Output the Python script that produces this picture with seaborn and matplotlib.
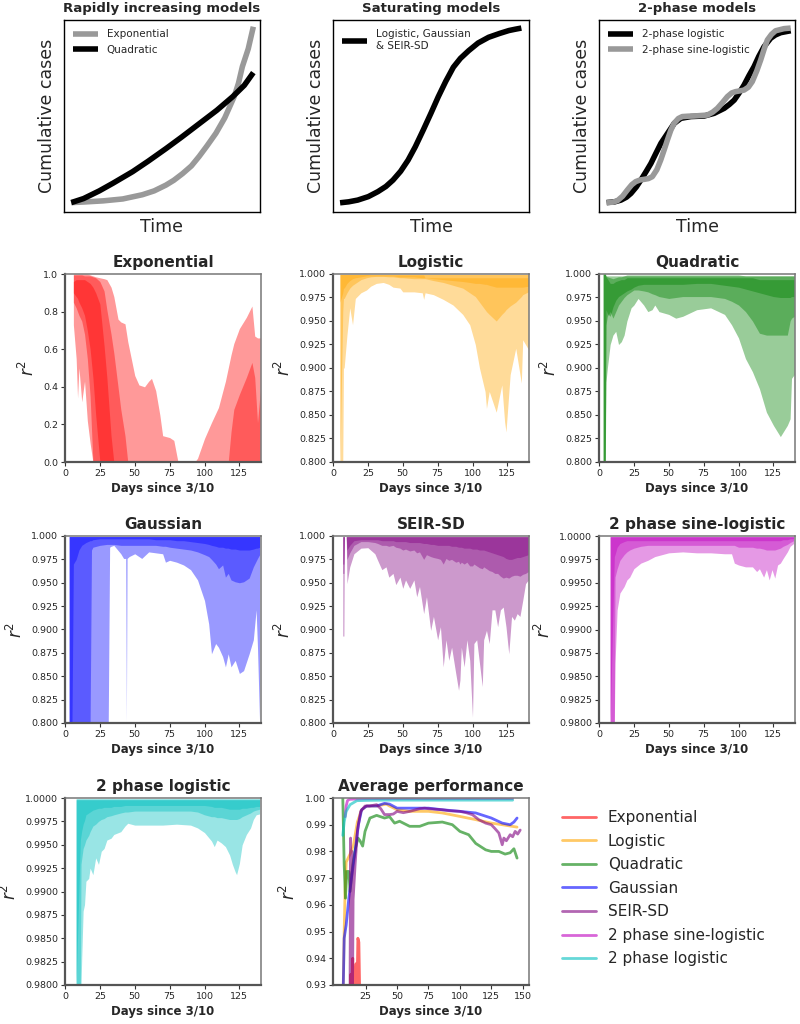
import numpy as np
import pandas as pd
import matplotlib
matplotlib.use("Agg")
import matplotlib.pyplot as plt
import seaborn as sns
from matplotlib.lines import Line2D
from matplotlib.ticker import FormatStrFormatter

# ------------------------------------------------------------------ data
# --- schematic curves (normalised time / cases) ---
EXP_T = [0.037, 0.1, 0.2, 0.3, 0.4, 0.46, 0.52, 0.56, 0.605, 0.65, 0.69, 0.73, 0.775, 0.82,
         0.868, 0.89, 0.91, 0.94, 0.966]
EXP_Y = [0.049, 0.052, 0.058, 0.068, 0.09, 0.11, 0.14, 0.165, 0.2, 0.24, 0.29, 0.345, 0.41, 0.49,
         0.6, 0.67, 0.757, 0.85, 0.965]
QUA_T = [0.037, 0.1, 0.18, 0.25, 0.35, 0.43, 0.52, 0.6, 0.69, 0.78, 0.86, 0.92, 0.966]
QUA_Y = [0.049, 0.07, 0.11, 0.15, 0.21, 0.265, 0.33, 0.39, 0.46, 0.53, 0.60, 0.66, 0.726]
LOGI_T = [0.036, 0.08, 0.126, 0.18, 0.229, 0.27, 0.306, 0.345, 0.383, 0.42, 0.46, 0.5, 0.537,
          0.575, 0.614, 0.65, 0.692, 0.74, 0.794, 0.85, 0.897, 0.93, 0.961]
LOGI_Y = [0.048, 0.053, 0.062, 0.08, 0.106, 0.133, 0.166, 0.212, 0.27, 0.34, 0.426, 0.515, 0.6,
          0.68, 0.754, 0.80, 0.84, 0.88, 0.91, 0.93, 0.945, 0.952, 0.958]
TPL_T = [0.039, 0.08, 0.112, 0.14, 0.163, 0.19, 0.214, 0.24, 0.265, 0.29, 0.316, 0.35, 0.384,
         0.418, 0.469, 0.537, 0.588, 0.639, 0.665, 0.69, 0.715, 0.74, 0.765, 0.791, 0.815,
         0.842, 0.876, 0.9, 0.927, 0.978]
TPL_Y = [0.049, 0.053, 0.062, 0.077, 0.097, 0.13, 0.167, 0.21, 0.253, 0.305, 0.358, 0.41, 0.462,
         0.488, 0.497, 0.5, 0.514, 0.54, 0.56, 0.583, 0.62, 0.661, 0.71, 0.757, 0.81,
         0.861, 0.905, 0.922, 0.934, 0.944]
TPS_T = [0.039, 0.07, 0.094, 0.12, 0.145, 0.167, 0.187, 0.21, 0.23, 0.252, 0.272, 0.295, 0.315,
         0.333, 0.349, 0.366, 0.383, 0.405, 0.425, 0.455, 0.485, 0.553, 0.58, 0.604, 0.63, 0.655,
         0.677, 0.697, 0.72, 0.74, 0.762, 0.782, 0.805, 0.825, 0.843, 0.859, 0.88, 0.901, 0.944, 0.978]
TPS_Y = [0.049, 0.051, 0.059, 0.082, 0.115, 0.142, 0.158, 0.167, 0.17, 0.174, 0.184, 0.22, 0.271,
         0.325, 0.375, 0.425, 0.462, 0.487, 0.497, 0.499, 0.5, 0.505, 0.52, 0.54, 0.57, 0.601,
         0.62, 0.627, 0.631, 0.635, 0.65, 0.679, 0.735, 0.792, 0.85, 0.896, 0.925, 0.944, 0.955, 0.958]

# --- Exponential r^2 percentile bands ---
E_DAY = [6, 8, 9, 10, 12, 14, 16, 18, 20, 22, 25, 28, 30, 33, 35, 38, 40, 43, 45, 50,
         53, 57, 60, 62, 65, 68, 70, 75, 78, 81, 90, 93, 95, 100, 105, 110, 115, 117, 119, 121,
         125, 130, 134, 136, 138, 140]
E_OUT_HI = [1.0, 1.0, 1.0, 1.0, 1.0, 1.0, 1.0, 0.995, 0.99, 0.985,
            0.98, 0.975, 0.97, 0.93, 0.88, 0.76, 0.745, 0.735, 0.64, 0.46,
            0.41, 0.40, 0.43, 0.445, 0.38, 0.25, 0.14, 0.13, 0.115, 0.0,
            0.0, 0.0, 0.02, 0.125, 0.21, 0.29, 0.43, 0.5, 0.57, 0.63,
            0.71, 0.77, 0.83, 0.67, 0.66, 0.66]
E_OUT_LO = [0.73, 0.55, 0.34, 0.5, 0.32, 0.43, 0.22, 0.1, 0.0] + [0.0] * 37
E_MID_HI = [0.995, 0.995, 0.995, 0.995, 0.995, 0.99, 0.99, 0.99, 0.985, 0.98,
            0.96, 0.91, 0.81, 0.68, 0.58, 0.40, 0.28, 0.14, 0.0, 0.0,
            0.0, 0.0, 0.0, 0.0, 0.0, 0.0, 0.0, 0.0, 0.0, 0.0,
            0.0, 0.0, 0.0, 0.0, 0.0, 0.0, 0.0, 0.0, 0.16, 0.28,
            0.36, 0.45, 0.53, 0.45, 0.21, 0.38]
E_MID_LO = [0.85, 0.82, 0.8, 0.78, 0.75, 0.68, 0.55, 0.35, 0.0] + [0.0] * 37
E_IN_HI = [0.96, 0.97, 0.97, 0.97, 0.97, 0.97, 0.96, 0.95, 0.93, 0.9,
           0.84, 0.62, 0.45, 0.14, 0.0] + [0.0] * 31
E_IN_LO = [0.9, 0.88, 0.87, 0.85, 0.82, 0.78, 0.7, 0.6, 0.45, 0.25, 0.0] + [0.0] * 35

# --- Logistic ---
L_DAY = [5, 7, 7.5, 8, 10, 12, 14, 16, 20, 24, 27, 31, 36, 40, 43, 48, 50, 58, 64, 65,
         66, 72, 79, 86, 93, 98, 102, 105, 109, 110, 112, 117, 121, 123, 124, 127, 131, 135, 136, 140]
L_OUT_LO = [0.8, 0.8, 0.9, 0.9, 0.935, 0.964, 0.946, 0.974, 0.98, 0.983,
            0.987, 0.99, 0.991, 0.989, 0.986, 0.985, 0.981, 0.981, 0.98, 0.973,
            0.98, 0.978, 0.973, 0.967, 0.957, 0.946, 0.925, 0.9, 0.875, 0.857,
            0.875, 0.853, 0.882, 0.843, 0.832, 0.893, 0.921, 0.884, 0.93, 0.92]
L_OUT_HI = [0.9995] * 40
L_MID_LO = [0.8, 0.96, 0.974, 0.974, 0.98, 0.985, 0.988, 0.99, 0.994, 0.996,
            0.997, 0.9975, 0.9975, 0.997, 0.997, 0.996, 0.996, 0.995, 0.995, 0.995,
            0.995, 0.993, 0.991, 0.988, 0.985, 0.98, 0.976, 0.97, 0.962, 0.96,
            0.957, 0.95, 0.957, 0.96, 0.962, 0.966, 0.97, 0.976, 0.978, 0.981]
L_MID_HI = [0.9995] * 40
L_IN_LO = [0.97, 0.98, 0.985, 0.985, 0.99, 0.993, 0.995, 0.996, 0.997, 0.998,
           0.998, 0.998, 0.998, 0.998, 0.998, 0.997, 0.997, 0.997, 0.996, 0.996,
           0.996, 0.995, 0.994, 0.993, 0.992, 0.991, 0.99, 0.99, 0.989, 0.989,
           0.988, 0.986, 0.986, 0.986, 0.986, 0.986, 0.986, 0.986, 0.986, 0.987]
L_IN_HI = [0.9995] * 10 + [0.999] * 10 + [0.996] * 20

# --- Quadratic ---
Q_DAY = [3, 4.5, 5, 6, 8, 10, 12, 14, 16, 18, 20, 23, 25, 28, 32, 35, 38, 40, 43, 50,
         55, 60, 70, 80, 90, 95, 100, 105, 110, 115, 120, 125, 130, 135, 137, 138, 140]
Q_OUT_LO = [0.8, 0.8, 0.885, 0.9, 0.925, 0.935, 0.939, 0.925, 0.928, 0.935,
            0.95, 0.964, 0.967, 0.974, 0.967, 0.96, 0.962, 0.967, 0.96, 0.957,
            0.953, 0.955, 0.962, 0.964, 0.957, 0.946, 0.932, 0.91, 0.896, 0.878,
            0.853, 0.839, 0.827, 0.839, 0.846, 0.889, 0.893]
Q_OUT_HI = ([1.0, 1.0, 0.998, 0.997, 0.996, 0.995, 0.996, 0.997, 0.997, 0.998]
            + [0.999] * 17 + [0.998] * 10)
Q_MID_LO = [0.8, 0.8, 0.946, 0.955, 0.96, 0.953, 0.96, 0.967, 0.971, 0.975,
            0.978, 0.981, 0.983, 0.983, 0.982, 0.981, 0.979, 0.978, 0.976, 0.974,
            0.975, 0.976, 0.976, 0.976, 0.974, 0.971, 0.967, 0.96, 0.95, 0.937,
            0.935, 0.935, 0.935, 0.935, 0.95, 0.953, 0.955]
Q_MID_HI = [1.0, 1.0] + [0.998] * 35
Q_IN_LO = [0.8, 0.8, 0.962, 0.958, 0.955, 0.965, 0.972, 0.976, 0.978, 0.98,
           0.982, 0.984, 0.986, 0.988, 0.989, 0.989, 0.989, 0.989, 0.989, 0.989,
           0.989, 0.989, 0.99, 0.99, 0.988, 0.987, 0.986, 0.984, 0.982, 0.98,
           0.978, 0.976, 0.975, 0.975, 0.975, 0.976, 0.976]
Q_IN_HI = ([1.0, 1.0, 0.997, 0.995, 0.99, 0.99, 0.992, 0.993, 0.994, 0.994]
           + [0.996] * 19 + [0.994] * 8)

# --- Gaussian ---
G_DAY = [3, 5, 6, 8, 10, 12, 15, 18, 19, 20, 25, 30, 31, 32, 33, 35, 40, 42, 43.5, 44,
         44.5, 46, 50, 55, 60, 65, 70, 72, 75, 80, 85, 90, 95, 100, 103, 105, 108, 110, 113, 115,
         117, 119, 122, 125, 128, 132, 135, 137, 138, 139.5]
G_OUT_LO = ([0.8] * 13
            + [0.988, 0.989, 0.99, 0.981, 0.976, 0.976, 0.8,
               0.976, 0.978, 0.981, 0.976, 0.983, 0.982, 0.981, 0.972, 0.974, 0.972,
               0.969, 0.964, 0.953, 0.931, 0.906, 0.874, 0.885, 0.881, 0.871, 0.86,
               0.874, 0.86, 0.867, 0.853, 0.856, 0.874, 0.889, 0.921, 0.88, 0.8])
G_OUT_HI = [0.9995] * 50
G_MID_LO = ([0.8] * 8
            + [0.985, 0.988,
               0.99, 0.991, 0.991, 0.991, 0.991, 0.991, 0.99, 0.99, 0.99, 0.99,
               0.99, 0.99, 0.99, 0.99, 0.99, 0.99, 0.989, 0.989, 0.988, 0.987,
               0.986, 0.985, 0.983, 0.98, 0.978, 0.975, 0.97, 0.965, 0.969, 0.956,
               0.96, 0.953, 0.951, 0.95, 0.951, 0.955, 0.967, 0.973, 0.976, 0.98])
G_MID_HI = [0.9995] * 50
G_IN_LO = ([0.8, 0.8, 0.97, 0.975, 0.985, 0.99, 0.993, 0.995, 0.995, 0.996]
           + [0.997] * 10
           + [0.997, 0.997, 0.997, 0.997, 0.997, 0.996, 0.996, 0.996, 0.996, 0.995]
           + [0.995, 0.994, 0.993, 0.992, 0.991, 0.99, 0.989, 0.988, 0.988, 0.987]
           + [0.987, 0.986, 0.986, 0.985, 0.985, 0.985, 0.986, 0.987, 0.987, 0.988])
G_IN_HI = [0.9993] * 50

# --- SEIR-SD ---
S_DAY = [7, 7.8, 8.2, 9.5, 10, 12, 15, 20, 25, 30, 32, 35, 38, 40, 43, 45, 48, 50, 52, 55,
         58, 60, 62, 65, 67, 70, 72, 75, 77, 79, 81, 83, 85, 88, 90, 91, 92, 94, 96, 98,
         100, 101, 103, 105, 107, 108, 110, 112, 114, 116, 118, 120, 122, 124, 126, 128, 130, 132,
         134, 136, 138, 140]
S_OUT_LO = [0.893, 0.893, 0.9995, 0.9995, 0.949, 0.967, 0.981, 0.987, 0.9875, 0.981,
            0.974, 0.964, 0.967, 0.956, 0.96, 0.948, 0.956, 0.944, 0.953, 0.944,
            0.953, 0.935, 0.946, 0.917, 0.935, 0.899, 0.914, 0.889, 0.903, 0.86,
            0.889, 0.867, 0.881, 0.853, 0.835, 0.846, 0.881, 0.86, 0.889, 0.867,
            0.806, 0.885, 0.889, 0.864, 0.839, 0.889, 0.899, 0.885, 0.921, 0.921,
            0.903, 0.921, 0.924, 0.903, 0.874, 0.914, 0.91, 0.917, 0.914, 0.931,
            0.949, 0.953]
S_OUT_HI = [0.9995] * 62
S_MID_LO = [0.96, 0.96, 0.9995, 0.9995, 0.975, 0.982, 0.99, 0.994, 0.994, 0.993,
            0.992, 0.99, 0.99, 0.989, 0.99, 0.988, 0.987, 0.985, 0.986, 0.984,
            0.985, 0.982, 0.983, 0.975, 0.98, 0.978, 0.977, 0.976, 0.975, 0.97,
            0.976, 0.974, 0.975, 0.972, 0.973, 0.97, 0.972, 0.97, 0.972, 0.968,
            0.968, 0.97, 0.968, 0.966, 0.965, 0.967, 0.965, 0.963, 0.962, 0.96,
            0.96, 0.957, 0.955, 0.956, 0.955, 0.957, 0.958, 0.958, 0.957, 0.959,
            0.96, 0.962]
S_MID_HI = [0.9995] * 62
S_IN_LO = [0.97, 0.97, 0.999, 0.999, 0.985, 0.99, 0.995, 0.996, 0.996, 0.996,
           0.996, 0.995, 0.995, 0.995, 0.995, 0.994, 0.994, 0.994, 0.994, 0.993,
           0.993, 0.993, 0.993, 0.992, 0.992, 0.991, 0.991, 0.99, 0.99, 0.99,
           0.99, 0.99, 0.989, 0.989, 0.988, 0.988, 0.988, 0.987, 0.987, 0.987,
           0.986, 0.986, 0.986, 0.985, 0.985, 0.985, 0.984, 0.983, 0.982, 0.981,
           0.98, 0.979, 0.978, 0.976, 0.975, 0.975, 0.976, 0.977, 0.977, 0.978,
           0.979, 0.98]
S_IN_HI = [0.999] * 62

# --- 2 phase sine-logistic ---
M_DAY = [8, 11, 11.5, 13, 15, 18, 20, 22, 25, 30, 35, 40, 45, 50, 60, 70, 80, 90, 95, 97,
         100, 105, 110, 113, 115, 118, 120, 122, 124, 126, 128, 130, 132, 135, 137, 139.5]
M_OUT_LO = [0.98, 0.98, 0.9864, 0.9921, 0.9939, 0.9946, 0.9953, 0.9956, 0.9965, 0.9971,
            0.9974, 0.9978, 0.998, 0.9982, 0.9983, 0.9982, 0.9982, 0.9981, 0.9981, 0.9971,
            0.9969, 0.9967, 0.9967, 0.9962, 0.9965, 0.9956, 0.9964, 0.9953, 0.9964, 0.9955,
            0.9969, 0.9971, 0.9976, 0.9983, 0.9989, 0.9992]
M_OUT_HI = [0.99992] * 36
M_MID_LO = ([0.98, 0.98, 0.9956, 0.9965, 0.9974, 0.998, 0.9983, 0.9985, 0.9987, 0.9989]
            + [0.999] * 10
            + [0.9988, 0.9988, 0.9988, 0.9987, 0.9987, 0.9986, 0.9985, 0.9985, 0.9985, 0.9985]
            + [0.9986, 0.9987, 0.9989, 0.9991, 0.9993, 0.9995])
M_MID_HI = [0.99992] * 36
M_IN_LO = ([0.98, 0.9978, 0.998, 0.9988, 0.9992, 0.9994, 0.9995, 0.9995, 0.9995, 0.9995]
           + [0.9995] * 20
           + [0.9995, 0.9995, 0.9996, 0.9996, 0.9997, 0.9997])
M_IN_HI = [0.99995] * 36

# --- 2 phase logistic ---
T_DAY = [8, 11, 11.5, 12, 13, 14, 15, 17, 18, 20, 22, 24, 26, 28, 30, 33, 35, 40, 43, 45,
         50, 60, 70, 80, 90, 95, 100, 105, 107, 109, 112, 115, 118, 120, 122, 123, 125, 127, 130, 133,
         135, 137, 139.5]
T_OUT_LO = [0.98, 0.98, 0.98, 0.9829, 0.9879, 0.9886, 0.9911, 0.9914, 0.9925, 0.9918,
            0.9936, 0.9929, 0.9943, 0.9946, 0.9955, 0.9957, 0.9961, 0.9964, 0.997, 0.9973,
            0.9971, 0.9971, 0.9971, 0.9972, 0.9971, 0.9968, 0.9963, 0.9954, 0.9948, 0.9955,
            0.9952, 0.9948, 0.9939, 0.9929, 0.9921, 0.9918, 0.993, 0.995, 0.9961, 0.9968,
            0.9977, 0.9982, 0.9983]
T_OUT_HI = [0.9999] * 43
T_MID_LO = ([0.98, 0.98, 0.9929, 0.9935, 0.9946, 0.995, 0.9955, 0.996, 0.9964, 0.997,
             0.9972, 0.9975, 0.9977, 0.9978, 0.998, 0.9981, 0.9982, 0.9984, 0.9985, 0.9985]
            + [0.9986] * 5
            + [0.9985, 0.9982, 0.998, 0.998, 0.9979,
               0.9979, 0.9978, 0.9977, 0.9977, 0.9977, 0.9977, 0.9978, 0.998, 0.9982, 0.9984,
               0.9986, 0.9987, 0.9988])
T_MID_HI = [0.9999] * 43
T_IN_LO = ([0.98, 0.9955, 0.996, 0.9965, 0.9972, 0.9976, 0.9982, 0.9984, 0.9985, 0.9987,
            0.9988, 0.9989, 0.9989, 0.999, 0.999, 0.999, 0.9991, 0.9991, 0.9992, 0.9992]
           + [0.9992] * 7
           + [0.9991, 0.999, 0.999,
              0.999, 0.9989, 0.9988, 0.9988, 0.9988, 0.9988, 0.9988, 0.9989, 0.9989, 0.999,
              0.999, 0.9991, 0.9991])
T_IN_HI = [0.9998] * 43

# --- average performance ---
AVG_EXP_DAY = [12.5, 13.2, 13.8, 14.7, 15.6, 16.5, 17.4, 18.0, 18.8, 19.6, 20.5, 22, 25, 30]
AVG_EXP_R2 = [0.90, 0.934, 0.925, 0.94, 0.925, 0.93, 0.938, 0.925, 0.9475, 0.946, 0.92, 0.88, 0.8, 0.6]
AVG_LOG_DAY = [6.8, 7.9, 8.6, 9.5, 12.6, 15.3, 18.4, 21.8, 25.8, 33.7, 41.6, 44, 50, 60, 75, 86,
               100, 112.6, 125, 133.7, 145.5]
AVG_LOG_R2 = [0.92, 0.95, 0.965, 0.976, 0.979, 0.9825, 0.991, 0.9956, 0.997, 0.997, 0.9977, 0.997,
              0.9956, 0.995, 0.995, 0.9944, 0.9931, 0.9919, 0.9906, 0.99, 0.9891]
AVG_QUA_DAY = [6.8, 7.9, 8.9, 10, 11.6, 12.6, 14.7, 16.8, 18.9, 20.5, 22.6, 24.5, 28.4, 33.7, 40,
               44, 48, 52, 60, 68, 75, 86, 94, 100, 107, 112.6, 120.5, 125, 131, 136, 140, 143, 145.5]
AVG_QUA_R2 = [1.0, 0.975, 0.9625, 0.9725, 0.9725, 0.965, 0.975, 0.981, 0.985, 0.984, 0.982, 0.9875,
              0.9925, 0.9935, 0.9925, 0.993, 0.9906, 0.9913, 0.9894, 0.9894, 0.9906, 0.991, 0.99,
              0.9875, 0.98625, 0.983, 0.9806, 0.98, 0.98, 0.979, 0.9795, 0.981, 0.9775]
AVG_GAU_DAY = [6.8, 7.9, 9.5, 11.6, 14, 16.6, 19.2, 21.8, 25.8, 33.7, 40, 44, 50, 60, 75, 86, 100,
               112.6, 125, 133.7, 140, 143, 145.5]
AVG_GAU_R2 = [0.92, 0.9475, 0.9525, 0.9625, 0.971, 0.98, 0.99, 0.9956, 0.997, 0.997, 0.998, 0.9977,
              0.9962, 0.9962, 0.9962, 0.9956, 0.995, 0.9944, 0.9925, 0.9906, 0.99, 0.991, 0.9925]
AVG_SEIR_DAY = [12.5, 13, 13.5, 14, 14.5, 15, 16.6, 18.4, 21, 24.5, 28, 33.7, 37, 40, 44, 47, 50,
                55, 60, 64, 68, 72, 75, 80, 86, 92, 100, 105, 110, 115, 120.5, 125, 128, 131,
                133.7, 135, 137, 140, 142, 144, 146, 148]
AVG_SEIR_R2 = [0.92, 0.985, 0.93, 0.98, 0.925, 0.962, 0.975, 0.9875, 0.995, 0.997, 0.997, 0.9975,
               0.996, 0.9938, 0.9938, 0.994, 0.995, 0.9945, 0.995, 0.9955, 0.996, 0.9962, 0.996,
               0.9958, 0.9956, 0.9952, 0.995, 0.9945, 0.99375, 0.9919, 0.9906, 0.99, 0.9885,
               0.9869, 0.9825, 0.985, 0.984, 0.98625, 0.9855, 0.9875, 0.9865, 0.988]
AVG_SIN_DAY = [8.7, 9.5, 10.5, 12, 20, 40, 60, 80, 100, 120, 142]
AVG_SIN_R2 = [0.993, 0.997, 0.999, 0.9995, 0.9997, 0.9998, 0.9998, 0.9998, 0.9998, 0.9998, 0.9998]
AVG_2PL_DAY = [6.8, 7.9, 9.5, 12.6, 18, 25, 40, 60, 80, 100, 120, 142]
AVG_2PL_R2 = [0.986, 0.991, 0.995, 0.9975, 0.999, 0.9991, 0.9992, 0.9992, 0.9992, 0.9992, 0.9992, 0.9992]

MODEL_NAMES = ["Exponential", "Logistic", "Quadratic", "Gaussian", "SEIR-SD",
               "2 phase sine-logistic", "2 phase logistic"]
MODEL_COLORS = ["red", "orange", "green", "blue", "purple", "m", "c"]

# ------------------------------------------------------------------ style
sns.set_style("ticks")
plt.rcParams['font.family'] = ['DejaVu Sans']

W, H = 800, 1024
fig = plt.figure(figsize=(W / 100, H / 100), dpi=100)


def add_ax(left, top, w, h):
    return fig.add_axes([left / W, 1 - (top + h) / H, w / W, h / H])


COL_L = [65, 333, 599]
AX_W = 196
ROW_T = [20, 274, 536, 798]
ROW_H = [192, 188, 187, 187]

# ------------------------------------------------------------------ top row
top_specs = [
    ("Rapidly increasing models",
     [(EXP_T, EXP_Y, "#999999", "Exponential"), (QUA_T, QUA_Y, "black", "Quadratic")]),
    ("Saturating models",
     [(LOGI_T, LOGI_Y, "black", "Logistic, Gaussian\n& SEIR-SD")]),
    ("2-phase models",
     [(TPL_T, TPL_Y, "black", "2-phase logistic"), (TPS_T, TPS_Y, "#999999", "2-phase sine-logistic")]),
]
for i, (title, curves) in enumerate(top_specs):
    ax = add_ax(COL_L[i] - (1 if i == 0 else 0), ROW_T[0], AX_W, ROW_H[0])
    for t, y, c, lab in curves:
        sns.lineplot(x=t, y=y, ax=ax, color=c, lw=4, label=lab, sort=False, estimator=None)
    for ln in ax.lines:
        ln.set_solid_joinstyle("round")
        ln.set_solid_capstyle("butt")
    ax.set_xlim(0, 1)
    ax.set_ylim(0, 1)
    ax.set_xticks([])
    ax.set_yticks([])
    for s in ax.spines.values():
        s.set_visible(True)
        s.set_color("black")
        s.set_linewidth(1.0)
    ax.set_title(title, fontsize=9.5, fontweight="bold", pad=6)
    ax.set_xlabel("Time", fontsize=12.5, labelpad=4)
    ax.set_ylabel("Cumulative cases", fontsize=12.5, labelpad=6)
    ax.legend(loc="upper left", frameon=False, fontsize=7.5, handlelength=2.4,
              labelspacing=0.55, handletextpad=0.8)

# ------------------------------------------------------------------ band panels
band_specs = [
    ("Exponential", "red", E_DAY, [(E_OUT_LO, E_OUT_HI), (E_MID_LO, E_MID_HI), (E_IN_LO, E_IN_HI)],
     (0.0, 1.0), np.arange(0.0, 1.01, 0.2), "%.1f"),
    ("Logistic", "orange", L_DAY, [(L_OUT_LO, L_OUT_HI), (L_MID_LO, L_MID_HI), (L_IN_LO, L_IN_HI)],
     (0.8, 1.0), np.arange(0.8, 1.0001, 0.025), "%.3f"),
    ("Quadratic", "green", Q_DAY, [(Q_OUT_LO, Q_OUT_HI), (Q_MID_LO, Q_MID_HI), (Q_IN_LO, Q_IN_HI)],
     (0.8, 1.0), np.arange(0.8, 1.0001, 0.025), "%.3f"),
    ("Gaussian", "blue", G_DAY, [(G_OUT_LO, G_OUT_HI), (G_MID_LO, G_MID_HI), (G_IN_LO, G_IN_HI)],
     (0.8, 1.0), np.arange(0.8, 1.0001, 0.025), "%.3f"),
    ("SEIR-SD", "purple", S_DAY, [(S_OUT_LO, S_OUT_HI), (S_MID_LO, S_MID_HI), (S_IN_LO, S_IN_HI)],
     (0.8, 1.0), np.arange(0.8, 1.0001, 0.025), "%.3f"),
    ("2 phase sine-logistic", "m", M_DAY, [(M_OUT_LO, M_OUT_HI), (M_MID_LO, M_MID_HI), (M_IN_LO, M_IN_HI)],
     (0.98, 1.0), np.arange(0.98, 1.00001, 0.0025), "%.4f"),
    ("2 phase logistic", "c", T_DAY, [(T_OUT_LO, T_OUT_HI), (T_MID_LO, T_MID_HI), (T_IN_LO, T_IN_HI)],
     (0.98, 1.0), np.arange(0.98, 1.00001, 0.0025), "%.4f"),
]


def style_data_axes(ax):
    for side in ("left", "bottom"):
        ax.spines[side].set_color("#555555")
        ax.spines[side].set_linewidth(1.6)
    for side in ("top", "right"):
        ax.spines[side].set_visible(True)
        ax.spines[side].set_color("#777777")
        ax.spines[side].set_linewidth(1.1)
    ax.tick_params(axis="both", labelsize=6.8, length=3, width=0.8, color="#333333", pad=2)
    ax.set_xlabel("Days since 3/10", fontsize=8.5, fontweight="bold", labelpad=3)
    ax.set_ylabel("$r^2$", fontsize=12, labelpad=4)


positions = [(1, 0), (1, 1), (1, 2), (2, 0), (2, 1), (2, 2), (3, 0)]
for (title, color, days, bands, ylim, yt, fmt), (r, c) in zip(band_specs, positions):
    ax = add_ax(COL_L[c], ROW_T[r], AX_W, ROW_H[r])
    for lo, hi in bands:
        assert len(lo) == len(days) and len(hi) == len(days), (title, len(lo), len(hi), len(days))
        ax.fill_between(days, lo, hi, color=color, alpha=0.4, lw=0)
    ax.set_xlim(0, 140.5)
    ax.set_ylim(*ylim)
    ax.set_xticks([0, 25, 50, 75, 100, 125])
    ax.set_yticks(yt)
    ax.yaxis.set_major_formatter(FormatStrFormatter(fmt))
    ax.set_title(title, fontsize=11, fontweight="bold", pad=5)
    style_data_axes(ax)

# ------------------------------------------------------------------ average performance
avg_series = [(AVG_EXP_DAY, AVG_EXP_R2), (AVG_LOG_DAY, AVG_LOG_R2), (AVG_QUA_DAY, AVG_QUA_R2),
              (AVG_GAU_DAY, AVG_GAU_R2), (AVG_SEIR_DAY, AVG_SEIR_R2), (AVG_SIN_DAY, AVG_SIN_R2),
              (AVG_2PL_DAY, AVG_2PL_R2)]
frames = []
for name, (d, v) in zip(MODEL_NAMES, avg_series):
    assert len(d) == len(v), name
    frames.append(pd.DataFrame({"day": d, "r2": v, "model": name}))
avg_df = pd.concat(frames, ignore_index=True)

ax = add_ax(COL_L[1], ROW_T[3], AX_W, ROW_H[3])
for name, color in zip(MODEL_NAMES, MODEL_COLORS):
    sub = avg_df[avg_df["model"] == name]
    sns.lineplot(data=sub, x="day", y="r2", ax=ax, color=color, alpha=0.6, lw=2,
                 sort=False, estimator=None, legend=False)
ax.set_xlim(-1, 155)
ax.set_ylim(0.93, 1.0)
ax.set_xticks([25, 50, 75, 100, 125, 150])
ax.set_yticks(np.arange(0.93, 1.0001, 0.01))
ax.yaxis.set_major_formatter(FormatStrFormatter("%.2f"))
ax.set_title("Average performance", fontsize=11, fontweight="bold", pad=5)
style_data_axes(ax)

handles = [Line2D([0], [0], color=c, alpha=0.6, lw=2) for c in MODEL_COLORS]
fig.legend(handles, MODEL_NAMES, loc="upper left", bbox_to_anchor=(556 / W, 1 - 804 / H),
           frameon=False, fontsize=11, handlelength=2.2, handletextpad=0.8,
           labelspacing=0.56, borderaxespad=0)

fig.savefig("out.png", dpi=100)
